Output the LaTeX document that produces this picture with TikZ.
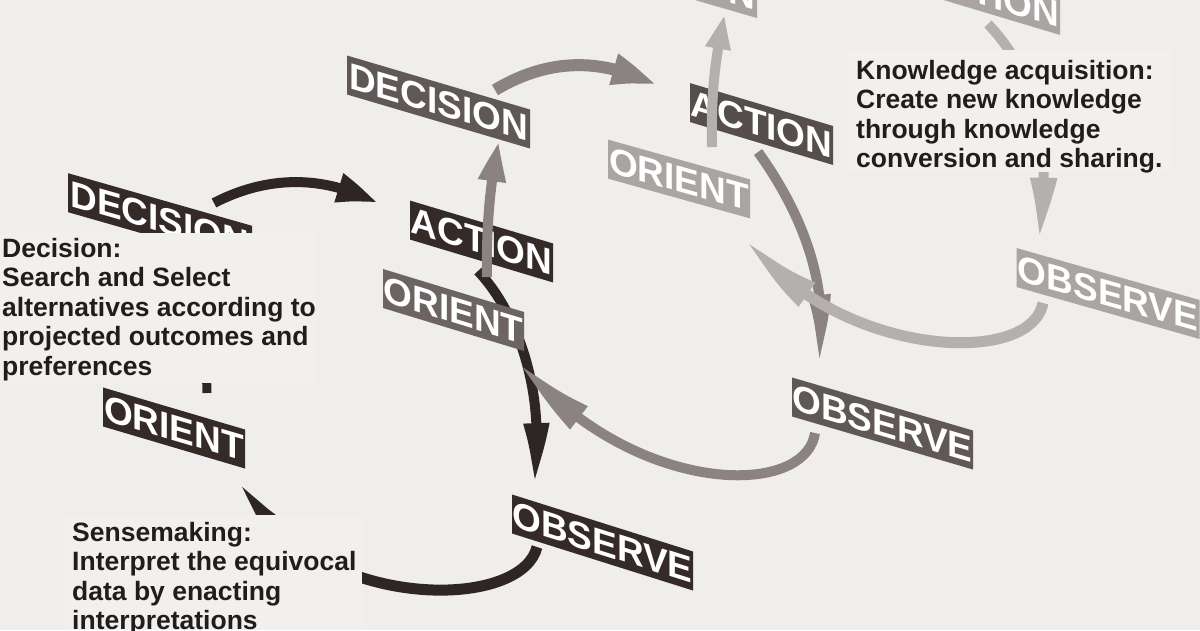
\documentclass[tikz,border=0pt]{standalone}
\usepackage{fontspec}
\setmainfont{Liberation Sans}
\usetikzlibrary{arrows.meta,bending}
\definecolor{bgc}{HTML}{EFEEEC}
\definecolor{boxc}{HTML}{F1F0EE}
\definecolor{txtc}{HTML}{211D1C}
\definecolor{bandA}{HTML}{342A28}
\definecolor{arrA}{HTML}{2E2624}
\definecolor{bandB}{HTML}{605856}
\definecolor{bandBd}{HTML}{564E4C}
\definecolor{bandBl}{HTML}{6C6462}
\definecolor{arrB}{HTML}{8A8381}
\definecolor{bandC}{HTML}{AAA5A3}
\definecolor{arrC}{HTML}{B4B0AE}
\newcommand{\oodalabel}[7]{%
  \begin{scope}[shift={(#2,#3)}, yslant=#5]
    \node[lab, fill=#6, minimum width=#4, transform shape] (#1) at (0,0) {#7};
  \end{scope}}
\begin{document}
\begin{tikzpicture}[x=1pt,y=-1pt,
  lab/.style={inner sep=0pt, minimum height=39pt, text=white,
    font=\fontsize{37}{37}\selectfont\bfseries},
  txt/.style={inner sep=0pt, anchor=north west, align=left, text=txtc,
    font=\fontsize{26.5}{29.5}\selectfont\bfseries},
  arrow/.style={line cap=butt}]
\useasboundingbox (0,0) rectangle (1200,630);
\fill[bgc] (0,0) rectangle (1200,630);

% ---------- loop 1 (front, dark) ----------
\coordinate (a1s) at (214,203); \coordinate (a1e) at (378,204);
\coordinate (a2s) at (478,271); \coordinate (a2e) at (533,485);
\coordinate (a3s) at (537,547); \coordinate (a3e) at (241,478);
\coordinate (a4s) at (207,393); \coordinate (a4e) at (203,248);
\draw[arrow, arrA, line width=9pt, -{Triangle[length=35pt,width=24pt,bend]}] (a4s) -- (a4e);
\draw[arrow, arrA, line width=10pt, -{Triangle[length=44pt,width=27pt,bend]}]
  (a1s) .. controls (262,178) and (320,172) .. (a1e);
\draw[arrow, arrA, line width=10pt, -{Triangle[length=64pt,width=23pt,bend]}]
  (a2s) .. controls (515,310) and (548,390) .. (a2e);
\draw[arrow, arrA, line width=11pt, -{Triangle[length=78pt,width=24pt,bend]}]
  (a3s) .. controls (520,615) and (300,610) .. (a3e);
\oodalabel{dec1}{160}{219}{184}{-0.286}{bandA}{DECISION}
\oodalabel{act1}{481.5}{241.5}{143}{-0.30}{bandA}{ACTION}
\oodalabel{ori1}{174}{428}{142}{-0.296}{bandA}{ORIENT}
\oodalabel{obs1}{602.5}{542.5}{181}{-0.315}{bandA}{OBSERVE}

% text boxes of loop 1
\fill[boxc] (0,233) rectangle (316,383);
\fill[boxc] (65,515) rectangle (362,630);
\node[txt] (tdec) at (2,238) {Decision:\\Search and Select\\alternatives according to\\projected outcomes and\\preferences};
\node[txt] (tsen) at (72,522) {Sensemaking:\\Interpret the equivocal\\data by enacting\\interpretations};

% ---------- loop 2 (middle) ----------
\oodalabel{dec2}{438.5}{102}{183}{-0.295}{bandB}{DECISION}
\oodalabel{act2}{761.5}{124}{143}{-0.30}{bandBd}{ACTION}
\oodalabel{ori2}{453.5}{310}{141}{-0.305}{bandBl}{ORIENT}
\oodalabel{obs2}{882.5}{423.5}{181}{-0.293}{bandB}{OBSERVE}
\coordinate (b1s) at (487,277); \coordinate (b1e) at (499,142);
\coordinate (b2s) at (495,90);  \coordinate (b2e) at (658,87);
\coordinate (b3s) at (758,152); \coordinate (b3e) at (815,367);
\coordinate (b4s) at (815,433); \coordinate (b4e) at (520,362);
\draw[arrow, arrB, line width=10pt, -{Triangle[length=38pt,width=26pt,bend]}]
  (b1s) .. controls (486,230) and (490,180) .. (b1e);
\draw[arrow, arrB, line width=12pt, -{Triangle[length=50pt,width=28pt,bend]}]
  (b2s) .. controls (545,60) and (600,55) .. (b2e);
\draw[arrow, arrB, line width=10pt, -{Triangle[length=74pt,width=20pt,bend]}]
  (b3s) .. controls (800,210) and (835,290) .. (b3e);
\draw[arrow, arrB, line width=10pt, -{Triangle[length=85pt,width=26pt,bend]}]
  (b4s) .. controls (805,500) and (630,495) .. (b4e);

% ---------- loop 3 (back, light) ----------
\oodalabel{dec3}{665.5}{-28}{183}{-0.29}{bandC}{DECISION}
\oodalabel{act3}{988.5}{-6}{143}{-0.30}{bandC}{ACTION}
\oodalabel{ori3}{679}{179}{142}{-0.28}{bandC}{ORIENT}
\oodalabel{obs3}{1108}{293.5}{183}{-0.284}{bandC}{OBSERVE}
\coordinate (c1s) at (712,147);  \coordinate (c1e) at (725,14);
\coordinate (c2s) at (988,24);   \coordinate (c2e) at (1038,240);
\coordinate (c3s) at (1043,303); \coordinate (c3e) at (747,237);
\draw[arrow, arrC, line width=10pt, -{Triangle[length=36pt,width=23pt,bend]}]
  (c1s) .. controls (711,100) and (714,60) .. (c1e);
\draw[arrow, arrC, line width=10pt, -{Triangle[length=66pt,width=24pt,bend]}]
  (c2s) .. controls (1032,70) and (1055,140) .. (c2e);
\draw[arrow, arrC, line width=11pt, -{Triangle[length=85pt,width=26pt,bend]}]
  (c3s) .. controls (1030,370) and (830,355) .. (c3e);

\fill[boxc] (848,50) rectangle (1172,172);
\node[txt] (tkno) at (856,60) {Knowledge acquisition:\\Create new knowledge\\through knowledge\\conversion and sharing.};
\end{tikzpicture}
\end{document}
